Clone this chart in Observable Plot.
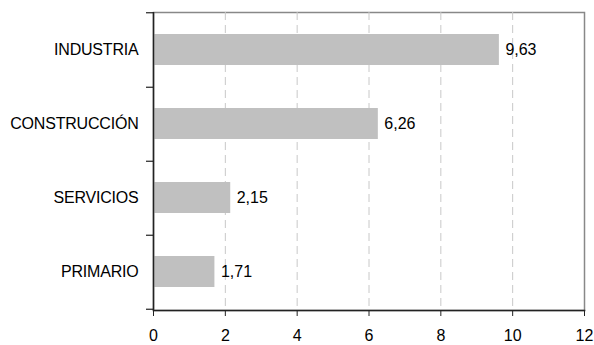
<!DOCTYPE html>
<html>
<head>
<meta charset="utf-8">
<script src="https://cdn.jsdelivr.net/npm/d3@7"></script>
<script src="https://cdn.jsdelivr.net/npm/@observablehq/plot@0.6"></script>
<style>
  body { margin: 0; background: #fff; }
  #chart svg { font-family: "Liberation Sans", Arial, sans-serif; }
  #chart svg g.ylab text { font-size: 16px; letter-spacing: -0.2px; }
  #chart svg g.xlab text { font-size: 16px; }
  #chart svg g.vlab text { font-size: 16px; }
</style>
</head>
<body>
<div id="chart"></div>
<script>
const categories = ["INDUSTRIA", "CONSTRUCCIÓN", "SERVICIOS", "PRIMARIO"];
const values = [9.63, 6.26, 2.15, 1.71];
const xTicks = [0, 2, 4, 6, 8, 10, 12];

const data = categories.map((c, i) => ({cat: c, value: values[i]}));
const fmt = v => v.toFixed(2).replace(".", ",");

const W = 594, H = 345, mL = 153, mR = 10, mT = 12, mB = 35;
const step = (H - mT - mB) / categories.length;
const xPerPx = 12 / (W - mL - mR);

const chart = Plot.plot({
  width: W,
  height: H,
  marginLeft: mL,
  marginRight: mR,
  marginTop: mT,
  marginBottom: mB,
  style: {fontSize: "16px", fontFamily: "Liberation Sans, Arial, sans-serif", color: "#000", background: "#fff"},
  x: {domain: [0, 12]},
  y: {domain: categories, paddingInner: 0.58, paddingOuter: 0.29},
  marks: [
    Plot.frame({stroke: "#888", strokeWidth: 1.5}),
    Plot.gridX({ticks: [2, 4, 6, 8, 10], stroke: "#c8c8c8", strokeOpacity: 1, strokeDasharray: "8,5"}),
    Plot.barX(data, {y: "cat", x: "value", fill: "#c0c0c0"}),
    Plot.text(data, {y: "cat", x: "value", text: d => fmt(d.value), textAnchor: "start", dx: 6, fontSize: 16, fill: "#000", className: "vlab"}),
    Plot.ruleX([0], {stroke: "#222", strokeWidth: 1.5}),
    Plot.frame({anchor: "bottom", stroke: "#222", strokeWidth: 1.5}),
    // category boundary ticks on y axis
    Plot.ruleY(categories, {y: d => d, x1: -7 * xPerPx, x2: 0, dy: step / 2, stroke: "#222", strokeWidth: 1.2}),
    Plot.ruleY([categories[0]], {y: d => d, x1: -7 * xPerPx, x2: 0, dy: -step / 2, stroke: "#222", strokeWidth: 1.2}),
    Plot.axisY({tickSize: 0, tickPadding: 15, fontSize: 16, label: null, fill: "#000", className: "ylab"}),
    Plot.axisX({ticks: xTicks, tickSize: 6, tickPadding: 13, fontSize: 16, label: null, tickFormat: d => String(d), stroke: "#222", fill: "#000", className: "xlab"})
  ]
});
document.getElementById("chart").appendChild(chart);
</script>
</body>
</html>
